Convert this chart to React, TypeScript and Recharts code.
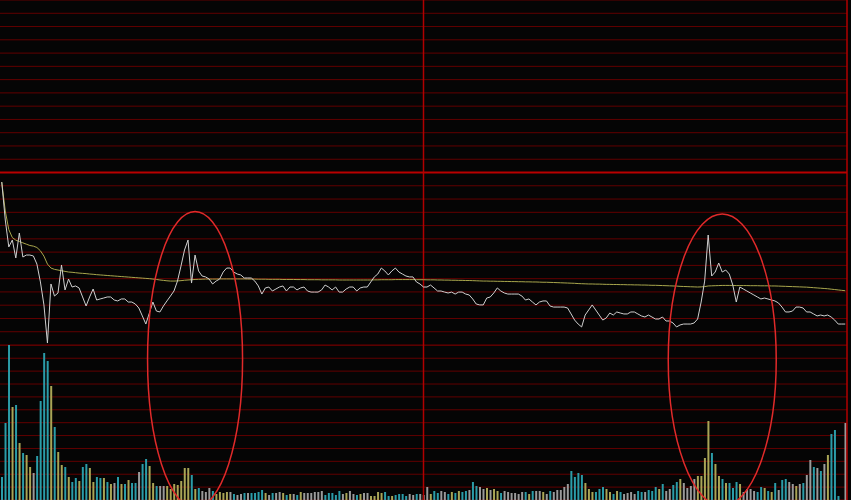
import {
  Bar,
  CartesianGrid,
  Cell,
  ComposedChart,
  Line,
  ReferenceDot,
  ReferenceLine,
  XAxis,
  YAxis,
} from "recharts";

// one trading day, minute by minute: 09:30-11:30 then 13:01-15:00
const times = Array.from({ length: 241 }, (_, i) => {
  const m = i <= 120 ? 9 * 60 + 30 + i : 13 * 60 + (i - 120);
  return `${String(Math.floor(m / 60)).padStart(2, "0")}:${String(m % 60).padStart(2, "0")}`;
});

// price vs previous close, in grid steps (0 = previous close)
const price = [
  -0.72, -3.58, -5.61, -5.09, -6.44, -4.56, -6.37, -6.22, -6.22, -6.29,
  -6.9, -8.25, -9.98, -12.85, -8.4, -9.31, -9.08, -6.97, -8.85, -8.03,
  -8.63, -8.55, -8.7, -9.38, -10.06, -9.38, -8.78, -9.61, -9.53, -9.46,
  -9.38, -9.38, -9.61, -9.68, -9.53, -9.53, -9.76, -9.76, -9.91, -10.21,
  -10.81, -11.42, -10.59, -9.76, -10.44, -10.51, -10.06, -9.68, -9.31, -8.93,
  -8.18, -7.05, -5.84, -5.09, -8.33, -6.22, -7.42, -7.8, -7.87, -8.03,
  -8.4, -8.18, -8.03, -7.5, -7.2, -7.2, -7.5, -7.65, -7.72, -7.95,
  -7.95, -7.95, -8.18, -8.55, -9.16, -8.7, -8.63, -8.93, -8.78, -8.63,
  -8.55, -8.93, -8.63, -8.63, -8.85, -8.7, -8.63, -8.93, -9.01, -9.01,
  -9.01, -8.85, -8.48, -8.63, -8.85, -8.63, -9.01, -9.01, -8.78, -8.63,
  -8.63, -8.93, -8.7, -8.63, -8.63, -8.25, -7.87, -7.65, -7.2, -7.42,
  -7.72, -7.42, -7.2, -7.5, -7.65, -7.8, -7.87, -7.87, -8.25, -8.4,
  -8.63, -8.63, -8.48, -8.7, -8.93, -8.93, -9.01, -9.08, -9.01, -9.16,
  -9.01, -9.01, -9.16, -9.23, -9.53, -9.91, -9.98, -9.98, -9.46, -9.38,
  -9.08, -8.7, -8.93, -9.08, -9.16, -9.16, -9.16, -9.16, -9.31, -9.61,
  -9.53, -9.76, -9.98, -9.76, -9.68, -9.68, -10.06, -10.14, -10.14, -10.14,
  -10.14, -10.21, -10.66, -11.12, -11.42, -11.64, -10.74, -10.36, -9.98, -10.36,
  -10.74, -11.12, -10.96, -10.59, -10.74, -10.51, -10.59, -10.66, -10.66, -10.51,
  -10.51, -10.66, -10.81, -10.89, -10.74, -10.89, -11.04, -11.04, -10.89, -11.19,
  -11.19, -11.34, -11.64, -11.49, -11.42, -11.42, -11.42, -11.34, -11.04, -9.76,
  -8.18, -4.71, -7.8, -7.5, -6.82, -7.5, -7.35, -7.65, -8.48, -9.76,
  -8.63, -8.78, -8.93, -9.08, -9.23, -9.38, -9.53, -9.46, -9.53, -9.61,
  -9.68, -9.83, -10.14, -10.51, -10.51, -10.44, -10.14, -10.14, -10.21, -10.51,
  -10.51, -10.66, -10.81, -10.74, -10.81, -10.74, -10.89, -11.12, -11.42, -11.42,
  -11.42,
];

// average price line, same units
const avgPrice = [
  -0.72, -2.9, -4.3, -4.9, -5.1, -5.2, -5.3, -5.4, -5.5, -5.55,
  -5.65, -5.9, -6.3, -6.9, -7.2, -7.3, -7.35, -7.4, -7.45, -7.5,
  -7.52, -7.55, -7.58, -7.6, -7.62, -7.65, -7.67, -7.7, -7.72, -7.74,
  -7.76, -7.78, -7.8, -7.82, -7.84, -7.86, -7.88, -7.9, -7.92, -7.94,
  -7.96, -7.98, -8.0, -8.03, -8.06, -8.1, -8.13, -8.16, -8.18, -8.18,
  -8.17, -8.15, -8.12, -8.1, -8.08, -8.06, -8.05, -8.04, -8.03, -8.03,
  -8.03, -8.03, -8.02, -8.02, -8.02, -8.02, -8.02, -8.02, -8.02, -8.02,
  -8.03, -8.03, -8.03, -8.04, -8.04, -8.04, -8.05, -8.05, -8.05, -8.05,
  -8.06, -8.06, -8.06, -8.06, -8.07, -8.07, -8.07, -8.08, -8.08, -8.08,
  -8.08, -8.09, -8.09, -8.09, -8.09, -8.09, -8.1, -8.1, -8.1, -8.1,
  -8.1, -8.1, -8.1, -8.1, -8.1, -8.1, -8.09, -8.09, -8.08, -8.08,
  -8.08, -8.08, -8.07, -8.07, -8.07, -8.07, -8.07, -8.07, -8.08, -8.08,
  -8.08, -8.09, -8.09, -8.09, -8.1, -8.1, -8.11, -8.11, -8.12, -8.12,
  -8.13, -8.13, -8.14, -8.14, -8.15, -8.16, -8.17, -8.18, -8.18, -8.19,
  -8.19, -8.2, -8.2, -8.21, -8.21, -8.22, -8.22, -8.23, -8.23, -8.24,
  -8.24, -8.25, -8.25, -8.26, -8.27, -8.27, -8.28, -8.29, -8.3, -8.31,
  -8.32, -8.33, -8.34, -8.35, -8.37, -8.38, -8.39, -8.4, -8.4, -8.41,
  -8.41, -8.42, -8.43, -8.43, -8.44, -8.44, -8.45, -8.45, -8.46, -8.46,
  -8.47, -8.47, -8.48, -8.48, -8.49, -8.5, -8.5, -8.51, -8.52, -8.53,
  -8.54, -8.55, -8.56, -8.58, -8.59, -8.6, -8.61, -8.62, -8.63, -8.62,
  -8.6, -8.55, -8.54, -8.53, -8.52, -8.51, -8.51, -8.51, -8.51, -8.52,
  -8.52, -8.52, -8.52, -8.53, -8.53, -8.53, -8.54, -8.54, -8.54, -8.55,
  -8.55, -8.56, -8.57, -8.58, -8.59, -8.6, -8.61, -8.62, -8.63, -8.64,
  -8.66, -8.68, -8.7, -8.72, -8.74, -8.76, -8.79, -8.82, -8.85, -8.88,
  -8.91,
];

// traded volume per minute (lots)
const volume = [
  2300, 7700, 15500, 9300, 9500, 5700, 4700, 4500, 3300, 2700,
  4400, 9900, 14700, 13900, 11400, 7300, 4800, 3500, 3300, 2300,
  1800, 2200, 1900, 3300, 3600, 3200, 1800, 2300, 2200, 2200,
  1800, 1600, 1700, 2300, 1600, 1600, 2000, 1700, 1700, 2800,
  3600, 4100, 3400, 1700, 1400, 1400, 1400, 1400, 1100, 1600,
  1500, 1900, 3200, 3200, 2500, 1100, 1200, 900, 800, 1200,
  900, 600, 800, 700, 800, 800, 600, 500, 600, 700,
  700, 700, 700, 800, 1000, 700, 500, 700, 700, 800,
  700, 500, 600, 600, 500, 800, 700, 700, 700, 800,
  800, 900, 500, 700, 700, 500, 900, 600, 700, 900,
  600, 500, 600, 700, 700, 400, 400, 800, 700, 800,
  400, 400, 500, 600, 600, 400, 600, 500, 600, 600,
  500, 1300, 600, 900, 700, 900, 800, 600, 800, 700,
  900, 800, 900, 1000, 1800, 1400, 1300, 1100, 1200, 1000,
  1100, 900, 700, 900, 800, 700, 700, 600, 800, 800,
  600, 900, 900, 900, 800, 600, 900, 800, 1000, 1000,
  1300, 1600, 2900, 2300, 2700, 2500, 1700, 1100, 800, 800,
  1100, 1300, 1100, 800, 600, 900, 800, 600, 700, 800,
  600, 900, 800, 800, 1000, 900, 1300, 1100, 1600, 900,
  1100, 1500, 1800, 2100, 1700, 1200, 1400, 2100, 2400, 2400,
  4200, 7900, 4700, 3600, 2400, 2100, 1700, 1700, 1200, 1800,
  1600, 800, 1100, 1100, 900, 800, 1300, 1200, 900, 800,
  1700, 1000, 2000, 2100, 1800, 1600, 1400, 1600, 1700, 2500,
  4000, 3300, 3200, 2900, 3600, 4500, 6600, 7000, 400, 0,
  7700,
];

// bar tone per minute: c = cyan, y = yellow, g = gray
const volumeTone = (
  "cccycycyyg" + "ccccycyycy" + "ccyccyyccy" + "cygcycyccg" + "ccyycggyyy" +
  "yyyycycggg" + "cyyyygcggc" + "gccccygcgg" + "ycygcygggg" + "ggcccccgyg" +
  "gcyggyyyyc" + "cyccccggcg" + "ggyccggcyc" + "yccgccggyg" + "yycggggggc" +
  "ycggygcggg" + "ggccccyyyc" + "ccyycycggg" + "gccgcccycg" + "gccyggggyy" +
  "yycyycyccc" + "yggggccycy" + "cgccggygcg" + "gcgcgycccg" + "g"
).split("");

const priceTicks = Array.from({ length: 27 }, (_, i) => 13 - i);
const volGridTicks = Array.from({ length: 13 }, (_, i) => i);

// the two circled moves: minute index + price level of the centre
const circled = [
  { at: 55, level: -14.1, rx: 47.5, ry: 148 },
  { at: 205, level: -14.13, rx: 54, ry: 146 },
];

const toneColor: Record<string, string> = {
  c: "#2b9ca8",
  y: "#a9a556",
  g: "#9a9a9a",
};

const data = times.map((t, i) => ({
  t,
  price: price[i],
  avg: avgPrice[i],
  vol: volume[i],
}));

export default function App() {
  return (
    <div style={{ position: "fixed", left: 0, top: 0, width: 851, height: 500, background: "#050505" }}>
      <ComposedChart width={851} height={500} data={data} margin={{ top: 0, right: 4, bottom: 0, left: 0 }}>
        <XAxis dataKey="t" hide />
        <YAxis yAxisId="p" hide type="number" domain={[-24.68, 13]} ticks={priceTicks} interval={0} allowDataOverflow />
        <YAxis yAxisId="v" hide type="number" domain={[0, 50000]} allowDataOverflow />
        <YAxis yAxisId="g" hide type="number" domain={[0, 38.8]} ticks={volGridTicks} interval={0} allowDataOverflow />

        <CartesianGrid yAxisId="p" vertical={false} horizontalValues={priceTicks} stroke="#620000" />
        <CartesianGrid yAxisId="g" vertical={false} horizontalValues={volGridTicks} stroke="#620000" />

        {/* lunch break split and the close */}
        <ReferenceLine yAxisId="p" x={times[120]} stroke="#b00000" strokeWidth={1.5} />
        <ReferenceLine yAxisId="p" x={times[240]} position="end" stroke="#b00000" strokeWidth={1.5} />
        <ReferenceLine yAxisId="p" y={0} stroke="#b80000" strokeWidth={2} />

        <Bar yAxisId="v" dataKey="vol" barSize={2} isAnimationActive={false}>
          {data.map((_, i) => (
            <Cell key={i} fill={toneColor[volumeTone[i]]} />
          ))}
        </Bar>
        <Line yAxisId="p" type="linear" dataKey="avg" stroke="#a8a64c" strokeWidth={1} dot={false} activeDot={false} isAnimationActive={false} />
        <Line yAxisId="p" type="linear" dataKey="price" stroke="#cfcfcf" strokeWidth={1} dot={false} activeDot={false} isAnimationActive={false} />

        {circled.map((c, i) => (
          <ReferenceDot
            key={i}
            yAxisId="p"
            x={times[c.at]}
            y={c.level}
            ifOverflow="visible"
            shape={(p: any) => (
              <ellipse cx={p.cx} cy={p.cy} rx={c.rx} ry={c.ry} fill="none" stroke="#e02a2a" strokeWidth={1.5} />
            )}
          />
        ))}
      </ComposedChart>
    </div>
  );
}
